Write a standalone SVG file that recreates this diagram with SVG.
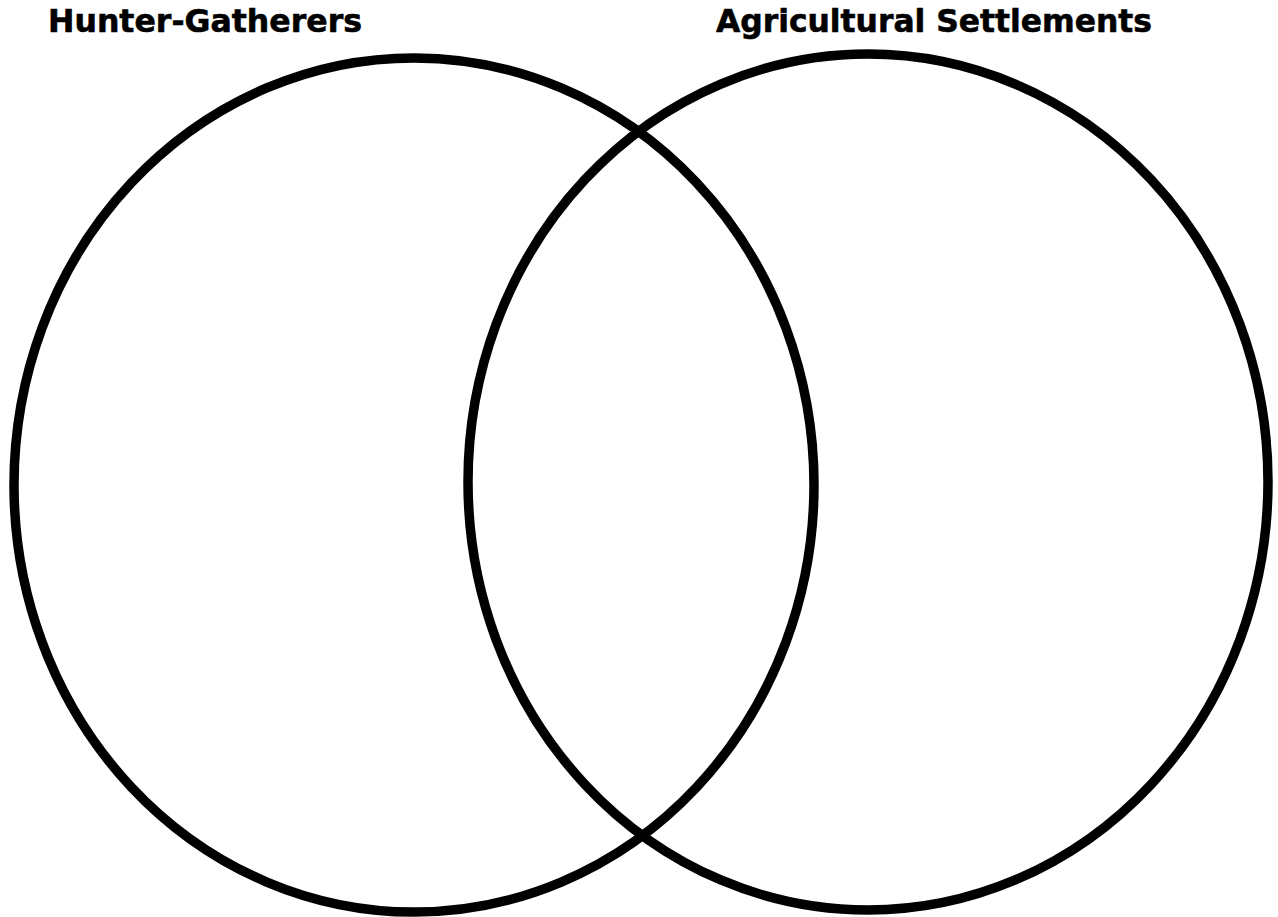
<svg xmlns="http://www.w3.org/2000/svg" width="1278" height="917" viewBox="0 0 1278 917">
<style>
.ring{fill:none;stroke:#000;stroke-width:9.5}
.lbl{font-family:"DejaVu Sans","Verdana",sans-serif;font-weight:bold;font-size:32px;fill:#000;stroke:#000;stroke-width:0.6}
</style>
<rect width="1278" height="917" fill="#fff"/>
<g id="hunter-gatherers">
<ellipse class="ring" cx="414" cy="485" rx="400" ry="427"/>
<text class="lbl" x="48" y="32" textLength="314" lengthAdjust="spacingAndGlyphs">Hunter-Gatherers</text>
</g>
<g id="agricultural-settlements">
<ellipse class="ring" cx="868" cy="482" rx="400" ry="428"/>
<text class="lbl" x="716" y="32" textLength="436" lengthAdjust="spacingAndGlyphs">Agricultural Settlements</text>
</g>
<g id="connectors"/>
</svg>
